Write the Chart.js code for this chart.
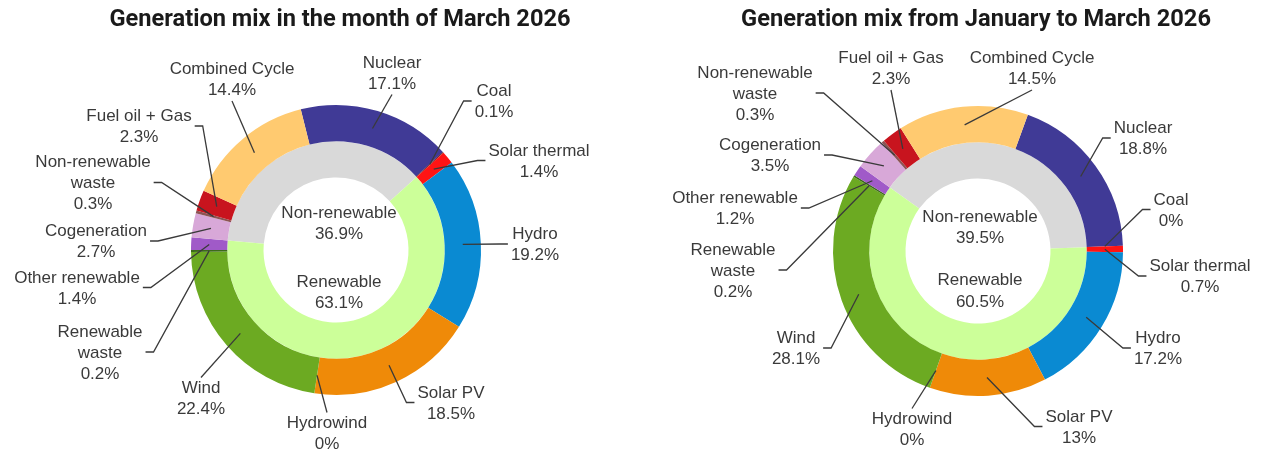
<!DOCTYPE html>
<html><head><meta charset="utf-8">
<script src="https://cdn.jsdelivr.net/npm/chart.js@4.4.1/dist/chart.umd.min.js"></script>
<style>
html,body{margin:0;padding:0;background:#fff;}
#wrap{position:relative;width:1265px;height:452px;overflow:hidden;background:#fff;}
canvas{position:absolute;top:0;}
</style></head><body>
<div id="wrap">
<canvas id="c1" width="632" height="452" style="left:0;width:632px;height:452px"></canvas>
<canvas id="c2" width="632" height="452" style="left:633px;width:632px;height:452px"></canvas>
</div>
<script>
// ---------- DATA ----------
const categories = ['Nuclear','Coal','Solar thermal','Hydro','Solar PV','Hydrowind','Wind','Renewable waste','Other renewable','Cogeneration','Non-renewable waste','Fuel oil + Gas','Combined Cycle'];
const categoryLines = [['Nuclear'],['Coal'],['Solar thermal'],['Hydro'],['Solar PV'],['Hydrowind'],['Wind'],['Renewable','waste'],['Other renewable'],['Cogeneration'],['Non-renewable','waste'],['Fuel oil + Gas'],['Combined Cycle']];
const marchValues = [17.1, 0.1, 1.4, 19.2, 18.5, 0, 22.4, 0.2, 1.4, 2.7, 0.3, 2.3, 14.4];
const ytdValues   = [18.8, 0,   0.7, 17.2, 13,   0, 28.1, 0.2, 1.2, 3.5, 0.3, 2.3, 14.5];
const groupCategories = ['Non-renewable','Renewable'];
const marchGroup = [36.9, 63.1];
const ytdGroup   = [39.5, 60.5];
const titles = ['Generation mix in the month of March 2026','Generation mix from January to March 2026'];
// categories that sit before Nuclear (end of the list) inside the non-renewable block
const nrTailIdx = [9,10,11,12];

// ---------- STYLE ----------
const catColors = ['#403a96','#5c1a1a','#ff1414','#0a8ad2','#ef8a08','#1f3d7a','#6caa22','#3d6b1a','#a05ac8','#d8a8d8','#8c5454','#c8141e','#ffca70'];
const groupColors = ['#d9d9d9','#ccff99'];

const layouts = [
  { canvasLeft:0, cx:336, cy:250, r:145, nrStart:275, titleX:340, titleW:461,
    center:[[3,-37],[3,-16],[3,32],[3,53]],
    pos:[
      {dx:56,dy:-177.5,side:'b'},{dx:158,dy:-149,side:'l'},{dx:203,dy:-89.5,side:'l'},{dx:199,dy:-6,side:'l'},
      {dx:115,dy:152.5,side:'l'},{dx:-9,dy:182.5,side:'t'},{dx:-135,dy:147.5,side:'t'},{dx:-236,dy:102,side:'r'},
      {dx:-259,dy:37.5,side:'r'},{dx:-240,dy:-9,side:'r'},{dx:-243,dy:-67.5,side:'r'},{dx:-197,dy:-124,side:'r'},
      {dx:-104,dy:-171,side:'b'}]},
  { canvasLeft:633, cx:978, cy:251, r:145, nrStart:305.8, titleX:976, titleW:470,
    center:[[2,-34],[2,-13],[2,29],[2,51]],
    pos:[
      {dx:165,dy:-113,side:'l'},{dx:193,dy:-41.5,side:'l'},{dx:222,dy:25,side:'l'},{dx:180,dy:97,side:'l'},
      {dx:101,dy:175.5,side:'l'},{dx:-66,dy:177.5,side:'t'},{dx:-182,dy:97,side:'r'},{dx:-245,dy:19,side:'r'},
      {dx:-243,dy:-43,side:'r'},{dx:-208,dy:-96,side:'r'},{dx:-223,dy:-158,side:'r'},{dx:-87,dy:-183,side:'b'},
      {dx:54,dy:-183,side:'b'}]}
];

const FONT = '"Liberation Sans", Arial, sans-serif';
const TEXT = '#3a3a3a';

const mixPlugin = {
  id: 'mixLabels',
  afterDraw(chart) {
    const o = chart.options.plugins.mixLabels;
    const L = o.layout;
    const ctx = chart.ctx;
    ctx.save();
    // title
    ctx.font = 'bold 24px Roboto, "DejaVu Sans", sans-serif';
    ctx.fillStyle = '#1a1a1a';
    ctx.textAlign = 'center'; ctx.textBaseline = 'middle';
    const tw = ctx.measureText(o.title).width;
    ctx.save();
    ctx.translate(L.titleX - L.canvasLeft, 20);
    ctx.scale(L.titleW / tw, 1);
    ctx.fillText(o.title, 0, 0);
    ctx.restore();

    ctx.font = '17px ' + FONT;
    ctx.fillStyle = TEXT;
    ctx.strokeStyle = '#3a3a3a';
    ctx.lineWidth = 1.3;
    const lh = 21;
    const meta = chart.getDatasetMeta(0);
    meta.data.forEach((arc, i) => {
      const p = arc.getProps(['x','y','startAngle','endAngle','innerRadius','outerRadius'], true);
      const pos = L.pos[i];
      const lines = categoryLines[i].concat([o.values[i] + '%']);
      const bx = p.x + pos.dx, by = p.y + pos.dy;
      const h = lines.length * lh;
      const w = Math.max(...lines.map(t => ctx.measureText(t).width));
      lines.forEach((t, k) => ctx.fillText(t, bx, by - h/2 + lh*(k+0.5) + 1));
      const mid = (p.startAngle + p.endAngle) / 2;
      const rr = (p.innerRadius + p.outerRadius) / 2;
      const ax = p.x + Math.cos(mid)*rr, ay = p.y + Math.sin(mid)*rr;
      ctx.beginPath();
      if (pos.side === 'b') { ctx.moveTo(bx, by + h/2 + 1); ctx.lineTo(ax, ay); }
      else if (pos.side === 't') { ctx.moveTo(bx, by - h/2 + 1); ctx.lineTo(ax, ay); }
      else if (pos.side === 'l') { ctx.moveTo(bx - w/2 - 3, by); ctx.lineTo(bx - w/2 - 11, by); ctx.lineTo(ax, ay); }
      else { ctx.moveTo(bx + w/2 + 3, by); ctx.lineTo(bx + w/2 + 11, by); ctx.lineTo(ax, ay); }
      ctx.stroke();
    });
    // centre labels
    const c = meta.data[0];
    const texts = [groupCategories[0], o.group[0] + '%', groupCategories[1], o.group[1] + '%'];
    texts.forEach((t, k) => ctx.fillText(t, c.x + L.center[k][0], c.y + L.center[k][1]));
    ctx.restore();
  }
};

function makeChart(id, L, values, group, title) {
  const tail = nrTailIdx.reduce((s, i) => s + values[i], 0);
  const total = values.reduce((a, b) => a + b, 0);
  const outerRot = L.nrStart + 360 * tail / total;
  const W = 632, H = 452;
  const lx = L.cx - L.canvasLeft;
  new Chart(document.getElementById(id), {
    type: 'doughnut',
    data: {
      labels: categories,
      datasets: [
        { data: values, backgroundColor: catColors, borderWidth: 0, rotation: outerRot },
        { data: group, backgroundColor: groupColors, borderWidth: 0, rotation: L.nrStart }
      ]
    },
    options: {
      responsive: false, animation: false, devicePixelRatio: 1,
      cutout: '50%',
      layout: { padding: { left: lx - L.r, right: W - (lx + L.r), top: L.cy - L.r, bottom: H - (L.cy + L.r) } },
      plugins: {
        legend: { display: false }, tooltip: { enabled: false }, title: { display: false },
        mixLabels: { layout: L, values: values, group: group, title: title }
      }
    },
    plugins: [mixPlugin]
  });
}
makeChart('c1', layouts[0], marchValues, marchGroup, titles[0]);
makeChart('c2', layouts[1], ytdValues, ytdGroup, titles[1]);
</script>
</body></html>
